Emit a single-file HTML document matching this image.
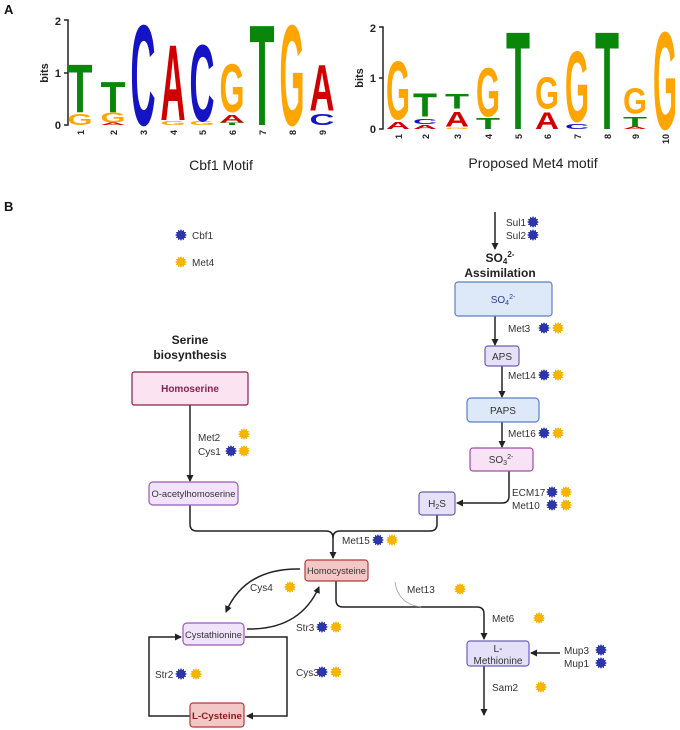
<!DOCTYPE html>
<html><head><meta charset="utf-8"><style>
html,body{margin:0;padding:0;background:#fff}
svg{display:block}
.lg{font-family:"Liberation Sans",sans-serif;font-weight:bold}
.t{font-family:"Liberation Sans",sans-serif;font-size:10px;fill:#333}
.b{font-family:"Liberation Sans",sans-serif;font-size:12px;font-weight:bold;fill:#222}
</style></head><body>
<svg width="680" height="730" viewBox="0 0 680 730" xmlns="http://www.w3.org/2000/svg">
<defs>
<polygon id="st" points="6,0 4.06,1.09 5.2,3 2.97,2.97 3,5.2 1.09,4.06 0,6 -1.09,4.06 -3,5.2 -2.97,2.97 -5.2,3 -4.06,1.09 -6,0 -4.06,-1.09 -5.2,-3 -2.97,-2.97 -3,-5.2 -1.09,-4.06 0,-6 1.09,-4.06 3,-5.2 2.97,-2.97 5.2,-3 4.06,-1.09"/>
<marker id="ah" markerWidth="8" markerHeight="8" refX="6" refY="4" orient="auto" markerUnits="userSpaceOnUse"><path d="M0,0.5 L7,4 L0,7.5 z" fill="#222"/></marker>
</defs>
<text x="4" y="14" class="lg" font-size="13" fill="#111">A</text>
<text x="4" y="211" class="lg" font-size="13" fill="#111">B</text>

<path d="M64,20 H68 V125 H64 M64,73 H68" stroke="#222" stroke-width="1.5" fill="none"/>
<text x="61" y="25" class="lg" font-size="11" text-anchor="end" fill="#222">2</text>
<text x="61" y="77" class="lg" font-size="11" text-anchor="end" fill="#222">1</text>
<text x="61" y="129" class="lg" font-size="11" text-anchor="end" fill="#222">0</text>
<text transform="translate(48,73) rotate(-90)" class="lg" font-size="11" text-anchor="middle" fill="#222">bits</text>
<g class="lg" font-size="100">
<text transform="translate(67.5,125) scale(.357,.158)" textLength="70" lengthAdjust="spacingAndGlyphs" fill="#ffa500">G</text>
<text transform="translate(67.5,111.9) scale(.357,.684)" textLength="70" lengthAdjust="spacingAndGlyphs" fill="#0a870a">T</text>
<text transform="translate(100.5,125) scale(.357,.036)" textLength="70" lengthAdjust="spacingAndGlyphs" fill="#d10000">A</text>
<text transform="translate(100.5,122.4) scale(.357,.144)" textLength="70" lengthAdjust="spacingAndGlyphs" fill="#ffa500">G</text>
<text transform="translate(100.5,111.9) scale(.357,.432)" textLength="70" lengthAdjust="spacingAndGlyphs" fill="#0a870a">T</text>
<text transform="translate(130.5,125) scale(.357,1.438)" textLength="70" lengthAdjust="spacingAndGlyphs" fill="#1414c4">C</text>
<text transform="translate(160.5,125) scale(.357,.058)" textLength="70" lengthAdjust="spacingAndGlyphs" fill="#ffa500">G</text>
<text transform="translate(160.5,119.75) scale(.357,1.079)" textLength="70" lengthAdjust="spacingAndGlyphs" fill="#d10000">A</text>
<text transform="translate(189.5,125) scale(.357,.058)" textLength="70" lengthAdjust="spacingAndGlyphs" fill="#ffa500">G</text>
<text transform="translate(189.5,120.8) scale(.357,1.093)" textLength="70" lengthAdjust="spacingAndGlyphs" fill="#1414c4">C</text>
<text transform="translate(219.5,125) scale(.357,.036)" textLength="70" lengthAdjust="spacingAndGlyphs" fill="#0a870a">T</text>
<text transform="translate(219.5,122.4) scale(.357,.108)" textLength="70" lengthAdjust="spacingAndGlyphs" fill="#d10000">A</text>
<text transform="translate(219.5,111.9) scale(.357,.684)" textLength="70" lengthAdjust="spacingAndGlyphs" fill="#ffa500">G</text>
<text transform="translate(249.5,125) scale(.357,1.438)" textLength="70" lengthAdjust="spacingAndGlyphs" fill="#0a870a">T</text>
<text transform="translate(279.5,125) scale(.357,1.438)" textLength="70" lengthAdjust="spacingAndGlyphs" fill="#ffa500">G</text>
<text transform="translate(309.5,125) scale(.357,.158)" textLength="70" lengthAdjust="spacingAndGlyphs" fill="#1414c4">C</text>
<text transform="translate(309.5,110.3) scale(.357,.662)" textLength="70" lengthAdjust="spacingAndGlyphs" fill="#d10000">A</text>
</g>
<g class="lg" font-size="9" fill="#222">
<text transform="translate(84,130) rotate(-90)" text-anchor="end">1</text>
<text transform="translate(117,130) rotate(-90)" text-anchor="end">2</text>
<text transform="translate(147,130) rotate(-90)" text-anchor="end">3</text>
<text transform="translate(177,130) rotate(-90)" text-anchor="end">4</text>
<text transform="translate(206,130) rotate(-90)" text-anchor="end">5</text>
<text transform="translate(236,130) rotate(-90)" text-anchor="end">6</text>
<text transform="translate(266,130) rotate(-90)" text-anchor="end">7</text>
<text transform="translate(296,130) rotate(-90)" text-anchor="end">8</text>
<text transform="translate(326,130) rotate(-90)" text-anchor="end">9</text>
</g>
<text x="221" y="170" font-family="Liberation Sans,sans-serif" font-size="14" text-anchor="middle" fill="#222">Cbf1 Motif</text>

<path d="M379,27 H383 V129 H379 M379,78 H383" stroke="#222" stroke-width="1.5" fill="none"/>
<text x="376" y="32" class="lg" font-size="11" text-anchor="end" fill="#222">2</text>
<text x="376" y="82" class="lg" font-size="11" text-anchor="end" fill="#222">1</text>
<text x="376" y="133" class="lg" font-size="11" text-anchor="end" fill="#222">0</text>
<text transform="translate(363,78) rotate(-90)" class="lg" font-size="11" text-anchor="middle" fill="#222">bits</text>
<g class="lg" font-size="100">
<text transform="translate(386,129) scale(.343,.105)" textLength="70" lengthAdjust="spacingAndGlyphs" fill="#d10000">A</text>
<text transform="translate(386,118.8) scale(.343,.838)" textLength="70" lengthAdjust="spacingAndGlyphs" fill="#ffa500">G</text>
<text transform="translate(413,129) scale(.343,.056)" textLength="70" lengthAdjust="spacingAndGlyphs" fill="#d10000">A</text>
<text transform="translate(413,123.9) scale(.343,.070)" textLength="70" lengthAdjust="spacingAndGlyphs" fill="#1414c4">C</text>
<text transform="translate(413,116.25) scale(.343,.329)" textLength="70" lengthAdjust="spacingAndGlyphs" fill="#0a870a">T</text>
<text transform="translate(445,129) scale(.343,.021)" textLength="70" lengthAdjust="spacingAndGlyphs" fill="#ffa500">G</text>
<text transform="translate(445,126.45) scale(.343,.210)" textLength="70" lengthAdjust="spacingAndGlyphs" fill="#d10000">A</text>
<text transform="translate(445,108.6) scale(.343,.210)" textLength="70" lengthAdjust="spacingAndGlyphs" fill="#0a870a">T</text>
<text transform="translate(476,129) scale(.343,.153)" textLength="70" lengthAdjust="spacingAndGlyphs" fill="#0a870a">T</text>
<text transform="translate(476,116.25) scale(.343,.699)" textLength="70" lengthAdjust="spacingAndGlyphs" fill="#ffa500">G</text>
<text transform="translate(506,129) scale(.343,1.397)" textLength="70" lengthAdjust="spacingAndGlyphs" fill="#0a870a">T</text>
<text transform="translate(535,129) scale(.343,.245)" textLength="70" lengthAdjust="spacingAndGlyphs" fill="#d10000">A</text>
<text transform="translate(535,108.6) scale(.343,.455)" textLength="70" lengthAdjust="spacingAndGlyphs" fill="#ffa500">G</text>
<text transform="translate(565,129) scale(.343,.070)" textLength="70" lengthAdjust="spacingAndGlyphs" fill="#1414c4">C</text>
<text transform="translate(565,121.35) scale(.343,1.014)" textLength="70" lengthAdjust="spacingAndGlyphs" fill="#ffa500">G</text>
<text transform="translate(595,129) scale(.343,1.397)" textLength="70" lengthAdjust="spacingAndGlyphs" fill="#0a870a">T</text>
<text transform="translate(623,129) scale(.343,.036)" textLength="70" lengthAdjust="spacingAndGlyphs" fill="#d10000">A</text>
<text transform="translate(623,126.45) scale(.343,.140)" textLength="70" lengthAdjust="spacingAndGlyphs" fill="#0a870a">T</text>
<text transform="translate(623,113.7) scale(.343,.363)" textLength="70" lengthAdjust="spacingAndGlyphs" fill="#ffa500">G</text>
<text transform="translate(653,129) scale(.343,1.397)" textLength="70" lengthAdjust="spacingAndGlyphs" fill="#ffa500">G</text>
</g>
<g class="lg" font-size="9" fill="#222">
<text transform="translate(402,134) rotate(-90)" text-anchor="end">1</text>
<text transform="translate(429,134) rotate(-90)" text-anchor="end">2</text>
<text transform="translate(461,134) rotate(-90)" text-anchor="end">3</text>
<text transform="translate(492,134) rotate(-90)" text-anchor="end">4</text>
<text transform="translate(522,134) rotate(-90)" text-anchor="end">5</text>
<text transform="translate(551,134) rotate(-90)" text-anchor="end">6</text>
<text transform="translate(581,134) rotate(-90)" text-anchor="end">7</text>
<text transform="translate(611,134) rotate(-90)" text-anchor="end">8</text>
<text transform="translate(639,134) rotate(-90)" text-anchor="end">9</text>
<text transform="translate(669,134) rotate(-90)" text-anchor="end">10</text>
</g>
<text x="533" y="168" font-family="Liberation Sans,sans-serif" font-size="14" text-anchor="middle" fill="#222">Proposed Met4 motif</text>

<g fill="#2c36a8"><use href="#st" x="181" y="235"/></g>
<text x="192" y="239" class="t">Cbf1</text>
<g fill="#f7b500"><use href="#st" x="181" y="262"/></g>
<text x="192" y="266" class="t">Met4</text>

<g stroke="#222" stroke-width="1.5" fill="none">
<path d="M495,212 V249" marker-end="url(#ah)"/>
<path d="M495,316 V345" marker-end="url(#ah)"/>
<path d="M502,366 V397" marker-end="url(#ah)"/>
<path d="M502,422 V447" marker-end="url(#ah)"/>
<path d="M509,471 V496 Q509,503 502,503 H457" marker-end="url(#ah)"/>
<path d="M190,405 V481" marker-end="url(#ah)"/>
<path d="M190,505 V524 Q190,531 197,531 H326 Q333,531 333,538 V558" marker-end="url(#ah)"/>
<path d="M437,515 V524 Q437,531 430,531 H340 Q333,531 333,538"/>
<path d="M336,581 V600 Q336,607 343,607 H477 Q484,607 484,614 V639" marker-end="url(#ah)"/>
<path d="M560,653 H531" marker-end="url(#ah)"/>
<path d="M484,666 V715" marker-end="url(#ah)"/>
<path d="M300,569 Q245,568 226,612" marker-end="url(#ah)"/>
<path d="M247,629 Q300,630 319,587" marker-end="url(#ah)"/>
<path d="M245,637 H287 V716 H247" marker-end="url(#ah)"/>
<path d="M190,716 H149 V637 H181" marker-end="url(#ah)"/>
</g>
<path d="M395,582 Q398,604 421,607" stroke="#999" stroke-width="0.8" fill="none"/>

<rect x="455" y="282" width="97" height="34" rx="3" fill="#dde9f9" stroke="#5b80c0" stroke-width="1.2"/>
<text x="503" y="303" class="t" text-anchor="middle" style="fill:#2a3e8c">SO<tspan font-size="7" dy="2">4</tspan><tspan font-size="7" dy="-6">2-</tspan></text>
<rect x="485" y="346" width="34" height="20" rx="3" fill="#e6e1f7" stroke="#6b5fb0" stroke-width="1.2"/>
<text x="502" y="360" class="t" text-anchor="middle">APS</text>
<rect x="467" y="398" width="72" height="24" rx="4" fill="#dde9f9" stroke="#5b80c0" stroke-width="1.2"/>
<text x="503" y="414" class="t" text-anchor="middle">PAPS</text>
<rect x="470" y="448" width="63" height="23" rx="3" fill="#f8e3f6" stroke="#a24aa8" stroke-width="1.2"/>
<text x="501" y="463" class="t" text-anchor="middle">SO<tspan font-size="7" dy="2">3</tspan><tspan font-size="7" dy="-6">2-</tspan></text>
<rect x="419" y="492" width="36" height="23" rx="3" fill="#e6e1f7" stroke="#6b5fb0" stroke-width="1.2"/>
<text x="437" y="507" class="t" text-anchor="middle">H<tspan font-size="7" dy="2">2</tspan><tspan dy="-2">S</tspan></text>
<rect x="132" y="372" width="116" height="33" rx="2" fill="#fbe3f1" stroke="#8a2150" stroke-width="1.2"/>
<text x="190" y="392" class="t" text-anchor="middle" font-weight="bold" style="fill:#8a2150">Homoserine</text>
<rect x="149" y="482" width="89" height="23" rx="4" fill="#f1e3fa" stroke="#9b59b6" stroke-width="1.2"/>
<text x="193.5" y="497" class="t" text-anchor="middle" style="font-size:9.5px" textLength="84" lengthAdjust="spacingAndGlyphs">O-acetylhomoserine</text>
<rect x="305" y="560" width="63" height="21" rx="3" fill="#f4c7c7" stroke="#b03a3a" stroke-width="1.2"/>
<text x="336.5" y="574" class="t" text-anchor="middle" style="font-size:9.5px" textLength="59" lengthAdjust="spacingAndGlyphs">Homocysteine</text>
<rect x="183" y="623" width="61" height="22" rx="4" fill="#f1e3fa" stroke="#9b59b6" stroke-width="1.2"/>
<text x="213.5" y="638" class="t" text-anchor="middle" style="font-size:9.5px" textLength="57" lengthAdjust="spacingAndGlyphs">Cystathionine</text>
<rect x="190" y="703" width="54" height="24" rx="3" fill="#f4c7c7" stroke="#b03a3a" stroke-width="1.2"/>
<text x="217" y="719" class="t" text-anchor="middle" font-weight="bold" style="fill:#8a1c1c;font-size:9.5px" textLength="50" lengthAdjust="spacingAndGlyphs">L-Cysteine</text>
<rect x="467" y="641" width="62" height="25" rx="3" fill="#e3e0f8" stroke="#6a5fc0" stroke-width="1.2"/>
<text x="498" y="652" class="t" text-anchor="middle">L-</text>
<text x="498" y="664" class="t" text-anchor="middle">Methionine</text>

<text x="500" y="262" class="b" text-anchor="middle">SO<tspan font-size="8" dy="2">4</tspan><tspan font-size="8" dy="-7">2-</tspan></text>
<text x="500" y="277" class="b" text-anchor="middle">Assimilation</text>
<text x="190" y="344" class="b" text-anchor="middle">Serine</text>
<text x="190" y="359" class="b" text-anchor="middle">biosynthesis</text>

<text x="506" y="226" class="t">Sul1</text>
<text x="506" y="239" class="t">Sul2</text>
<text x="508" y="332" class="t">Met3</text>
<text x="508" y="379" class="t">Met14</text>
<text x="508" y="437" class="t">Met16</text>
<text x="512" y="496" class="t">ECM17</text>
<text x="512" y="509" class="t">Met10</text>
<text x="198" y="441" class="t">Met2</text>
<text x="198" y="455" class="t">Cys1</text>
<text x="342" y="544" class="t">Met15</text>
<text x="250" y="591" class="t">Cys4</text>
<text x="296" y="631" class="t">Str3</text>
<text x="296" y="676" class="t">Cys3</text>
<text x="155" y="678" class="t">Str2</text>
<text x="407" y="593" class="t">Met13</text>
<text x="492" y="622" class="t">Met6</text>
<text x="564" y="654" class="t">Mup3</text>
<text x="564" y="667" class="t">Mup1</text>
<text x="492" y="691" class="t">Sam2</text>

<g fill="#2c36a8">
<use href="#st" x="533" y="222"/><use href="#st" x="533" y="235"/>
<use href="#st" x="544" y="328"/><use href="#st" x="544" y="375"/><use href="#st" x="544" y="433"/>
<use href="#st" x="552" y="492"/><use href="#st" x="552" y="505"/>
<use href="#st" x="231" y="451"/><use href="#st" x="378" y="540"/>
<use href="#st" x="322" y="627"/><use href="#st" x="322" y="672"/><use href="#st" x="181" y="674"/>
<use href="#st" x="601" y="650"/><use href="#st" x="601" y="663"/>
</g>
<g fill="#f7b500">
<use href="#st" x="558" y="328"/><use href="#st" x="558" y="375"/><use href="#st" x="558" y="433"/>
<use href="#st" x="566" y="492"/><use href="#st" x="566" y="505"/>
<use href="#st" x="244" y="434"/><use href="#st" x="244" y="451"/><use href="#st" x="392" y="540"/>
<use href="#st" x="290" y="587"/><use href="#st" x="336" y="627"/><use href="#st" x="336" y="672"/><use href="#st" x="196" y="674"/>
<use href="#st" x="460" y="589"/><use href="#st" x="539" y="618"/><use href="#st" x="541" y="687"/>
</g>
</svg>
</body></html>
